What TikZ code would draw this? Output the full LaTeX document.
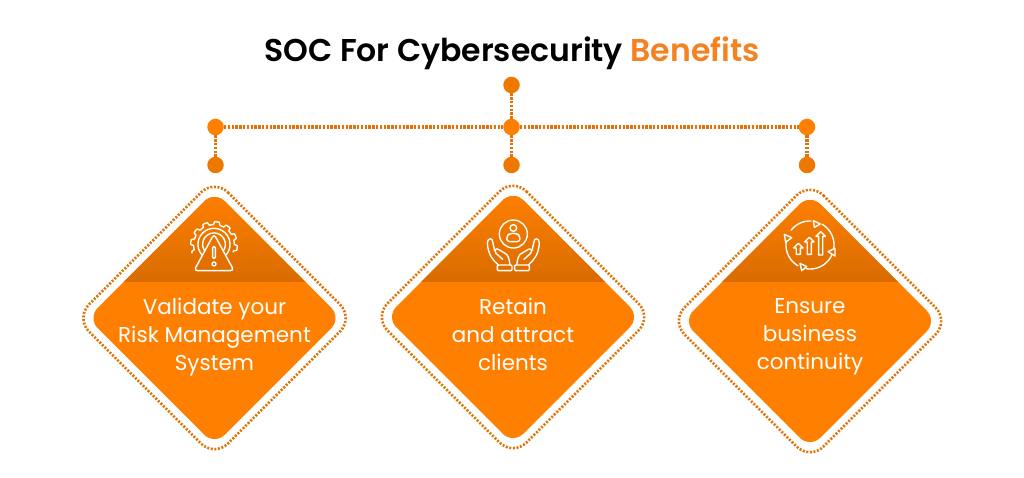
\documentclass[tikz,border=0pt]{standalone}
\usepackage{fontspec}
\setmainfont{Poppins}
\newfontfamily\titlefont{Poppins SemiBold}
\newfontfamily\bodyfont{Poppins}
\usetikzlibrary{calc}
\definecolor{org}{HTML}{FF8000}
\definecolor{orgdark}{HTML}{D96C00}
\definecolor{dotc}{HTML}{E07408}
\definecolor{hubdark}{HTML}{EC7800}
\tikzset{
  x=1pt,y=-1pt,
  hub/.style={circle,fill=org,inner sep=0,minimum size=16.5pt},
  hubb/.style={circle,fill=hubdark,inner sep=0,minimum size=16.5pt},
  link/.style={draw=dotc,line width=3.3pt,dash pattern=on 2.4pt off 1.4pt},
  ring/.style={draw=dotc,line width=2.6pt,dash pattern=on 2pt off 1.6pt,rounded corners=19pt},
  ico/.style={draw=white,line width=1.4pt,line join=round,line cap=round},
  lab/.style={text=white,align=center,font=\bodyfont\fontsize{21.5}{28}\selectfont,inner sep=0},
}
\newcommand{\diam}[3]{% name, cx, cy
  \coordinate (#1) at (#2,#3);
  \begin{scope}
    \clip[rounded corners=14.5pt] (#2,#3-127) -- (#2+127,#3) -- (#2,#3+127) -- (#2-127,#3) -- cycle;
    \fill[org] (#2-130,#3-130) rectangle (#2+130,#3+130);
    \shade[top color=org,bottom color=orgdark] (#2-130,#3-127) rectangle (#2+130,281);
  \end{scope}
  \draw[ring] (#2,#3-139) -- (#2+139,#3) -- (#2,#3+139) -- (#2-139,#3) -- cycle;
}
\newcommand{\uparr}[4]{% cx, top, bottom, halfwidth
  \draw[ico] (#1-#4*.45,#3) -- (#1-#4*.45,#2+#4) -- (#1-#4,#2+#4) -- (#1,#2) -- (#1+#4,#2+#4) -- (#1+#4*.45,#2+#4) -- (#1+#4*.45,#3) -- cycle;
}
\newcommand{\cyc}[2]{\draw[ico] plot[domain=#1:#2,samples=30] ({165+72*cos(\x)},{105-72*sin(\x)});}
\newcommand{\garc}[3]{\draw[ico] plot[domain=#1:#2,samples=40] ({162+#3*cos(\x)},{103-#3*sin(\x)});}
\newcommand{\st}{\vphantom{Ay}}
\begin{document}
\begin{tikzpicture}
\useasboundingbox (0,0) rectangle (1024,478);
\fill[white] (0,0) rectangle (1024,478);

\node[anchor=center,inner sep=0,font=\titlefont\fontsize{31.5}{36}\selectfont] (title) at (512,53) {SOC For Cybersecurity \textcolor[HTML]{F58220}{Benefits}};

\diam{d1}{214.5}{318}
\diam{d2}{513}{317}
\diam{d3}{810}{321}

\node[hubb] (top) at (511.5,85) {};
\node[hub] (hl) at (215.5,127) {};
\node[hub] (hm) at (511.5,127) {};
\node[hub] (hr) at (807,127) {};
\node[hubb] (bl) at (215.5,165) {};
\node[hubb] (bm) at (511.5,165) {};
\node[hubb] (br) at (807,165) {};
\draw[link] (top) -- (hm);
\draw[link] (hm) -- (bm);
\draw[link] (hl) -- (bl);
\draw[link] (hr) -- (br);
\draw[link] (hl) -- (hm);
\draw[link] (hm) -- (hr);

\node[lab] (t1) at (214.5,337) {\st Validate your\\Risk Management\\\st System};
\node[lab] (t2) at (513,337) {\st Retain\\and attract\\\st clients};
\node[lab] (t3) at (810,337) {\st Ensure\\business\\\st continuity};

% icon 1
\begin{scope}[shift={(160,210)},scale=1/3]
  \draw[ico] plot[domain=-20:200,samples=221] ({162+(61+9*min(1,max(0,.5+1.6*cos(12*\x+90))))*cos(\x)},{105-(61+9*min(1,max(0,.5+1.6*cos(12*\x+90))))*sin(\x)});
  \garc{-42}{222}{48}
  \garc{-32}{212}{34}
  \draw[ico,rounded corners=3.5pt] (162,72) -- (222,182) -- (102,182) -- cycle;
  \draw[ico,rounded corners=1pt] (158,110) rectangle (166,145);
  \draw[ico] (162,162) circle (6);
\end{scope}
% icon 2
\begin{scope}[shift={(460,210)},scale=1/3]
  \draw[ico] (160,72) circle (42);
  \draw[ico] (160,54) circle (10);
  \draw[ico,rounded corners=3pt] (140,95) -- (140,78) -- (150,70) -- (170,70) -- (180,78) -- (180,95) -- cycle;
  \foreach \s in {1,-1}{
    \begin{scope}[shift={(160,0)},xscale=\s]
      \draw[ico,rounded corners=1pt] (4,165) rectangle (48,182);
      \draw[ico] (45,165) .. controls (62,150) and (75,135) .. (78,100)
         .. controls (79,84) and (62,82) .. (62,95) -- (56,122);
      \draw[ico] (10,165) .. controls (13,145) and (15,135) .. (25,130) -- (45,118)
         .. controls (52,114) and (58,120) .. (52,130) -- (32,148);
    \end{scope}
  }
\end{scope}
% icon 3
\begin{scope}[shift={(755,210)},scale=1/3]
  \cyc{88}{142}
  \cyc{175}{240}
  \cyc{262}{335}
  \cyc{-8}{60}
  \draw[ico] (175,32) -- (196,42) -- (178,52) -- cycle;
  \draw[ico] (88,73) -- (110,83) -- (92,97) -- cycle;
  \draw[ico] (240,115) -- (219,125) -- (240,138) -- cycle;
  \draw[ico] (135,160) -- (155,170) -- (140,182) -- cycle;
  \uparr{130}{100}{133}{14}
  \uparr{163}{82}{133}{14}
  \uparr{197}{65}{135}{14}
\end{scope}
\end{tikzpicture}
\end{document}
